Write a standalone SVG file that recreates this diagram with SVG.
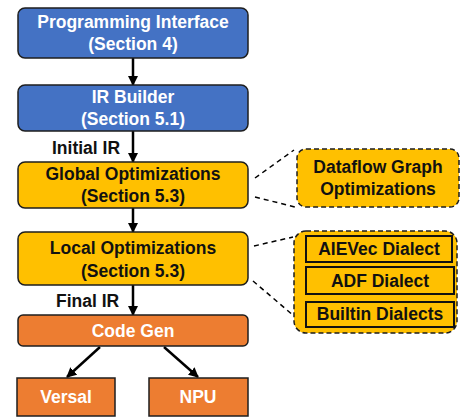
<svg xmlns="http://www.w3.org/2000/svg" width="461" height="417" viewBox="0 0 461 417">
<defs>
<marker id="ah" viewBox="0 0 10 10" refX="9" refY="5" markerWidth="4" markerHeight="4" orient="auto" markerUnits="strokeWidth">
<path d="M0,0 L10,5 L0,10 z" fill="#000"/>
</marker>
<style>
text{font-family:"Liberation Sans",Arial,sans-serif;font-weight:bold;font-size:17.5px;text-anchor:middle}
.w{fill:#fff}
.k{fill:#111}
.blue{fill:#4472C4;stroke:#1e1e1e;stroke-width:1.5}
.yel{fill:#FFC000;stroke:#1e1e1e;stroke-width:1.5}
.org{fill:#ED7D31;stroke:#1e1e1e;stroke-width:1.5}
.dash{fill:#FFC000;stroke:#1e1e1e;stroke-width:1.5;stroke-dasharray:5,3}
.inner{fill:#FFC000;stroke:#111;stroke-width:2}
.arr{stroke:#000;stroke-width:2.5;fill:none;marker-end:url(#ah)}
.dl{stroke:#000;stroke-width:1.5;stroke-dasharray:5,4;fill:none}
.lbl{text-anchor:start;fill:#111}
</style>
</defs>
<g id="connectors">
<line class="arr" x1="133" y1="58" x2="133" y2="85"/>
<line class="arr" x1="133" y1="131" x2="133" y2="162"/>
<line class="arr" x1="133" y1="208" x2="133" y2="232"/>
<line class="arr" x1="133" y1="285" x2="133" y2="315"/>
<line class="arr" x1="100" y1="347" x2="67" y2="377"/>
<line class="arr" x1="164" y1="347" x2="198" y2="377"/>
<line class="dl" x1="255" y1="178" x2="294" y2="150"/>
<line class="dl" x1="255" y1="197" x2="295" y2="207"/>
<line class="dl" x1="254" y1="246" x2="293" y2="237"/>
<line class="dl" x1="253" y1="281" x2="294" y2="316"/>
<text class="lbl" x="52" y="154">Initial IR</text>
<text class="lbl" x="56" y="307">Final IR</text>
</g>
<g id="programming-interface">
<rect class="blue" x="18" y="8" width="230" height="50" rx="7"/>
<text class="w" x="133" y="28">Programming Interface</text>
<text class="w" x="133" y="50">(Section 4)</text>
</g>
<g id="ir-builder">
<rect class="blue" x="18" y="85" width="230" height="46" rx="7"/>
<text class="w" x="133" y="103">IR Builder</text>
<text class="w" x="133" y="125">(Section 5.1)</text>
</g>
<g id="global-opt">
<rect class="yel" x="18" y="162" width="230" height="46" rx="7"/>
<text class="k" x="133" y="180">Global Optimizations</text>
<text class="k" x="133" y="202">(Section 5.3)</text>
</g>
<g id="local-opt">
<rect class="yel" x="18" y="232" width="230" height="53" rx="7"/>
<text class="k" x="133" y="254">Local Optimizations</text>
<text class="k" x="133" y="277">(Section 5.3)</text>
</g>
<g id="code-gen">
<rect class="org" x="18" y="315" width="230" height="31" rx="5"/>
<text class="w" x="133" y="337">Code Gen</text>
</g>
<g id="versal">
<rect class="org" x="17" y="378" width="98" height="38"/>
<text class="w" x="66" y="403">Versal</text>
</g>
<g id="npu">
<rect class="org" x="149" y="378" width="99" height="38"/>
<text class="w" x="198" y="403">NPU</text>
</g>
<g id="dataflow">
<rect class="dash" x="297" y="149" width="162" height="58" rx="9"/>
<text class="k" x="378" y="173">Dataflow Graph</text>
<text class="k" x="378" y="195">Optimizations</text>
</g>
<g id="dialects">
<rect class="dash" x="294" y="231" width="163" height="102" rx="12"/>
<g id="aievec">
<rect class="inner" x="306" y="236" width="146" height="26"/>
<text class="k" x="379" y="255">AIEVec Dialect</text>
</g>
<g id="adf">
<rect class="inner" x="306" y="267" width="148" height="27"/>
<text class="k" x="380" y="287">ADF Dialect</text>
</g>
<g id="builtin">
<rect class="inner" x="306" y="302" width="148" height="25"/>
<text class="k" x="380" y="320">Builtin Dialects</text>
</g>
</g>
</svg>
